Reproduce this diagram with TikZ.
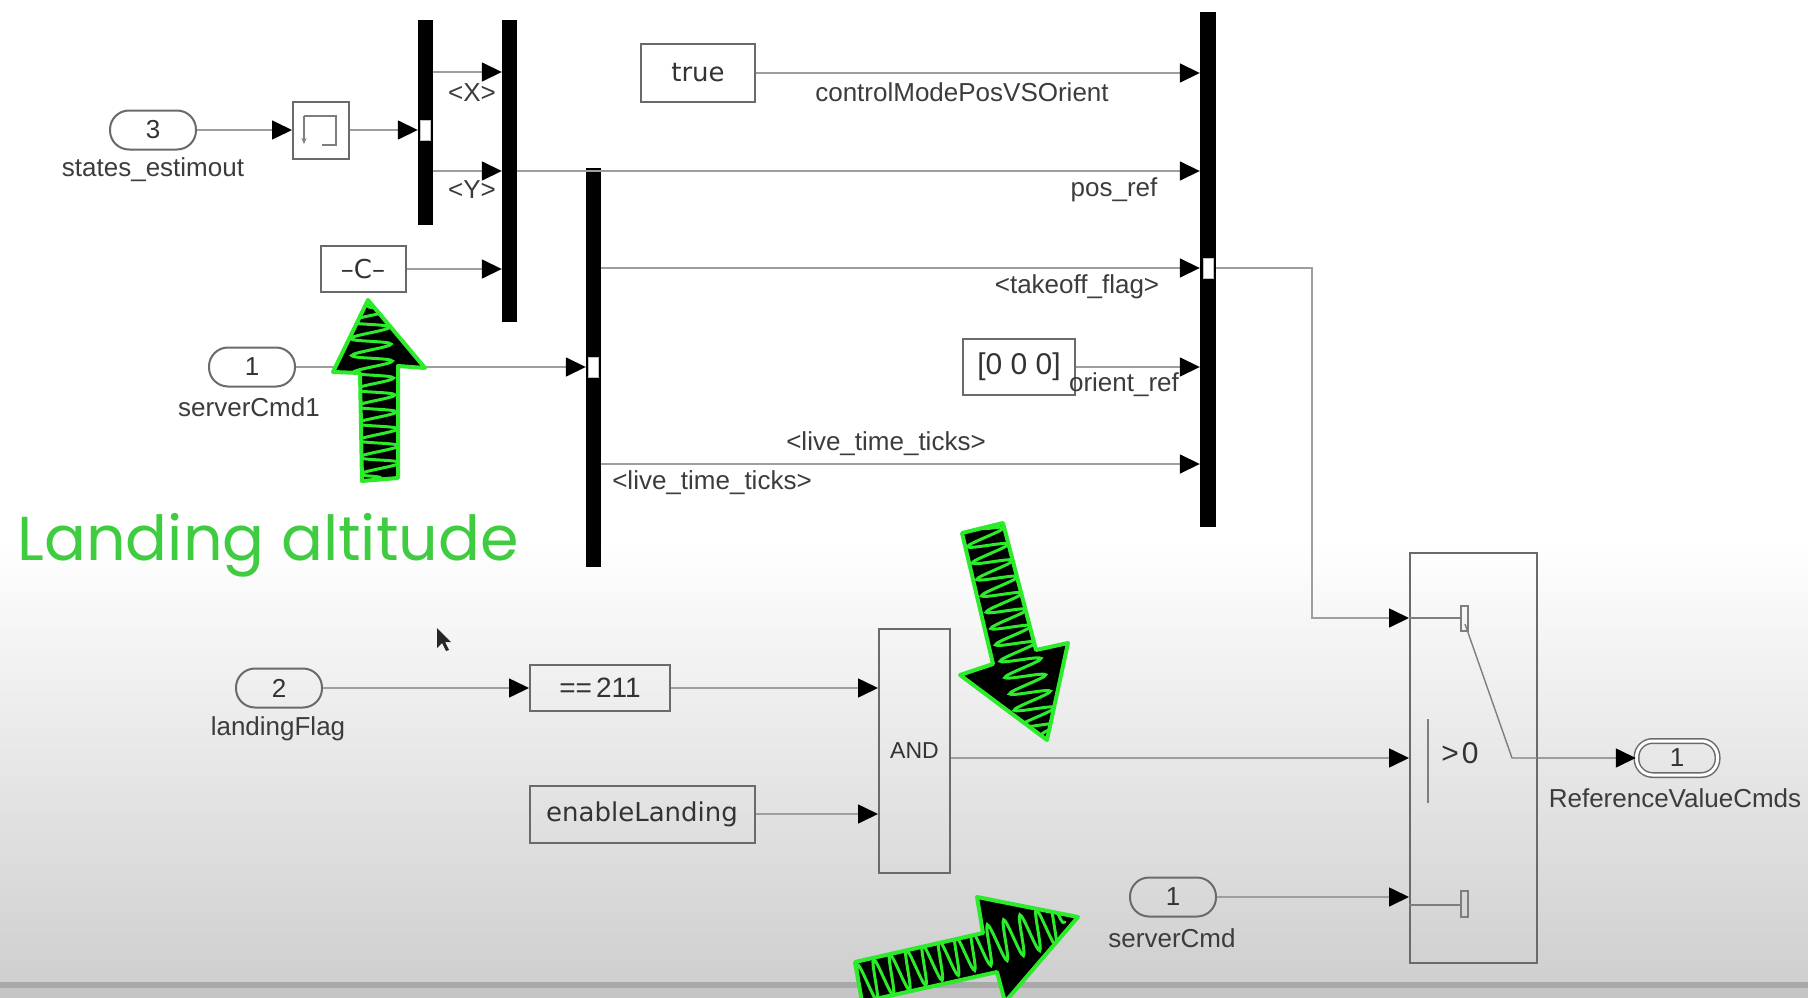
\documentclass[tikz,border=0pt]{standalone}
\usepackage{fontspec}
\setmainfont{Liberation Sans}
\newfontfamily\blockfont{DejaVu Sans}
\newfontfamily\handfont{Poppins}
\usetikzlibrary{arrows.meta,decorations.pathmorphing}

\definecolor{sigline}{HTML}{9E9E9E}
\definecolor{blkedge}{HTML}{6A6A6A}
\definecolor{lbltext}{HTML}{3C3C3C}
\definecolor{bgbot}{HTML}{CFCFCF}
\definecolor{bgbar}{HTML}{A9A9A9}
\definecolor{scribble}{HTML}{2BEB2B}
\definecolor{handgreen}{HTML}{40CC40}

\newcommand*\arrowUp{(368,300) -- (425,368) -- (398,366) -- (398,478) -- (362,481) -- (360,373) -- (333,372) -- cycle}
\newcommand*\arrowDown{(962,533) -- (1003,523) -- (1036,650) -- (1068,643) -- (1047,740) -- (960,675) -- (993,664) -- cycle}
\newcommand*\arrowRight{(855,962) -- (983,933) -- (977,897) -- (1078,917) -- (1005,1002) -- (997,972) -- (862,1002) -- cycle}

\tikzset{
  sig/.style={draw=sigline, line width=1.6pt, -{Triangle[length=20pt,width=19pt,color=black]}},
  swline/.style={draw=sigline!80!black, line width=1.4pt},
  pill/.style={draw=blkedge, line width=2pt, rounded corners=19pt, minimum width=86pt, minimum height=39pt, inner sep=0pt, text=black!80, font=\fontsize{26}{30}\selectfont},
  blk/.style={draw=blkedge, line width=2pt, inner sep=0pt, text=black!80, font=\blockfont\fontsize{26}{30}\selectfont},
  busbar/.style={fill=black, inner sep=0pt, minimum width=15pt},
  lbl/.style={text=lbltext, inner sep=0pt, font=\fontsize{26}{30}\selectfont},
  portmk/.style={fill=white, draw=gray!50, line width=1pt, minimum width=10pt, minimum height=20pt, inner sep=0pt},
  bigarrow/.style={fill=black, draw=scribble, line width=4pt, line join=round},
  zz/.style={draw=scribble, line width=3pt, line cap=round, decorate, decoration={snake, segment length=17pt, amplitude=20pt}},
}

\begin{document}
\begin{tikzpicture}[x=1pt, y=-1pt]
\useasboundingbox (0,0) rectangle (1808,998);
\fill[white] (0,0) rectangle (1808,998);
\shade[top color=white, bottom color=bgbot] (0,540) rectangle (1808,982);
\fill[bgbar] (0,982) rectangle (1808,988);
\fill[bgbot!95!black] (0,988) rectangle (1808,998);

\coordinate (rowX) at (0,72);
\coordinate (rowY) at (0,171);
\coordinate (rowTO) at (0,268);
\coordinate (rowLT) at (0,464);
\coordinate (rowAnd) at (0,758);
\coordinate (rowLow) at (0,905);
\coordinate (brk) at (1312,618);

\node[busbar, minimum height=205pt] (bsel) at (425.5,122.5) {};
\node[busbar, minimum height=302pt] (bcre) at (509.5,171) {};
\node[busbar, minimum height=399pt] (bsel2) at (593.5,367.5) {};
\node[busbar, minimum width=16pt, minimum height=515pt] (bus) at (1208,269.5) {};

\node[pill, fill=white] (in3) at (153,130) {3};
\node[lbl] (in3lbl) at (153,170) {states\_estimout};
\node[blk, fill=white, minimum width=56pt, minimum height=57pt] (mem) at (321,130) {};
\draw[swline, -{Stealth[length=6pt,width=5pt]}] (304,116) -- (304,144);
\draw[swline] (304,116) -- (336,116) -- (336,145) -- (322,145);
\node[blk, fill=white, minimum width=85pt, minimum height=46pt] (cst) at (363,269) {\textendash C\textendash};
\node[blk, fill=white, minimum width=114pt, minimum height=58pt] (tru) at (698,73) {true};
\node[blk, fill=white, minimum width=112pt, minimum height=56pt, font=\fontsize{30}{34}\selectfont] (zer) at (1019,367) {[0 0 0]};
\node[pill, fill=white] (in1a) at (252,367) {1};
\node[lbl] (in1albl) at (249,407) {serverCmd1};

\node[pill] (in2) at (279,688) {2};
\node[lbl] (in2lbl) at (278,729) {landingFlag};
\node[blk, minimum width=140pt, minimum height=46pt, font=\fontsize{28}{32}\selectfont] (eq) at (600,688) {==\kern4pt211};
\node[blk, minimum width=225pt, minimum height=57pt] (enl) at (642,814) {enableLanding};
\node[blk, minimum width=71pt, minimum height=244pt, font=\fontsize{23}{27}\selectfont] (andb) at (914.5,751) {AND};
\node[pill] (in1b) at (1173,897) {1};
\node[lbl] (in1blbl) at (1172,938) {serverCmd};
\node[blk, minimum width=127pt, minimum height=410pt] (sw) at (1473.5,758) {};
\node[pill, double=white, double distance=3pt, line width=1.5pt, rounded corners=16pt, minimum width=81pt, minimum height=34pt] (out1) at (1677,758) {1};
\node[lbl] (out1lbl) at (1675,798) {ReferenceValueCmds};

\draw[sig] (in3.east) -- (mem.west);
\draw[sig] (mem.east) -- (mem.east -| bsel.west);
\draw[sig] (bsel.east |- rowX) -- (bcre.west |- rowX);
\draw[sig] (bsel.east |- rowY) -- (bcre.west |- rowY);
\draw[sig] (cst.east) -- (cst.east -| bcre.west);
\draw[sig] (bcre.east |- rowY) -- (bus.west |- rowY);
\draw[sig] (tru.east) -- (tru.east -| bus.west);
\draw[sig] (bsel2.east |- rowTO) -- (bus.west |- rowTO);
\draw[sig] (zer.east) -- (zer.east -| bus.west);
\draw[sig] (bsel2.east |- rowLT) -- (bus.west |- rowLT);
\draw[sig] (in1a.east) -- (in1a.east -| bsel2.west);
\draw[sig] (bus.east |- rowTO) -| (brk) -- (sw.west |- brk);
\draw[sig] (in2.east) -- (eq.west);
\draw[sig] (eq.east) -- (eq.east -| andb.west);
\draw[sig] (enl.east) -- (enl.east -| andb.west);
\draw[sig] (andb.east |- rowAnd) -- (sw.west |- rowAnd);
\draw[sig] (in1b.east) -- (in1b.east -| sw.west);
\draw[sig] (sw.east) -- (out1.west);

\node[portmk] (pm1) at (bsel.center |- mem.east) {};
\node[portmk] (pm2) at (bsel2.center |- in1a.east) {};
\node[portmk] (pm3) at (bus.center |- rowTO) {};

\node[lbl] (lx) at (472,93) {<X>};
\node[lbl] (ly) at (472,190) {<Y>};
\node[lbl] (lcm) at (962,92) {controlModePosVSOrient};
\node[lbl] (lpos) at (1114,190) {pos\_ref};
\node[lbl] (lto) at (1077,287) {<takeoff\_flag>};
\node[lbl] (lor) at (1124,385) {orient\_ref};
\node[lbl] (llt1) at (886,444) {<live\_time\_ticks>};
\node[lbl] (llt2) at (712,483) {<live\_time\_ticks>};

\draw[swline] (sw.west |- brk) -- (1461,618);
\draw[swline] (1461,606) rectangle (1468,631);
\draw[swline] (sw.west |- rowLow) -- (1461,905);
\draw[swline] (1461,891) rectangle (1468,917);
\draw[swline] (1428,719) -- (1428,803);
\node[lbl, text=black!80, font=\fontsize{30}{34}\selectfont] (thr) at (1460,753) {>\kern3pt0};
\draw[swline] (1465,624) -- (1512,758) -- (sw.east);

\fill[black!85] (437,628) -- (437,648) -- (442,643) -- (446,651) -- (449,650) -- (445,642) -- (451,642) -- cycle;

\node[anchor=base west, text=handgreen, font=\handfont\fontsize{62}{70}\selectfont] (note) at (14,560) {Landing altitude};

\filldraw[bigarrow] \arrowUp;
\begin{scope}
\clip \arrowUp;
\draw[zz] (381,478) -- (368,305);
\end{scope}
\filldraw[bigarrow] \arrowDown;
\begin{scope}
\clip \arrowDown;
\draw[zz] (983,528) -- (1042,735);
\end{scope}
\filldraw[bigarrow] \arrowRight;
\begin{scope}
\clip \arrowRight;
\draw[zz] (858,985) -- (1065,922);
\end{scope}
\end{tikzpicture}
\end{document}
